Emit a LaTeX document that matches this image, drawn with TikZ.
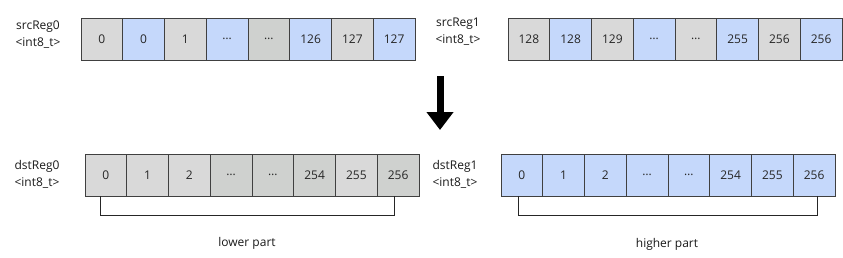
\documentclass[tikz,border=0pt]{standalone}
\usepackage{fontspec}
\setmainfont{Open Sans}
\usetikzlibrary{arrows.meta}
\definecolor{cellgray}{HTML}{D9D9D9}
\definecolor{cellgrayd}{HTML}{CFD1CF}
\definecolor{cellblue}{HTML}{C5D8FB}
\definecolor{lineclr}{HTML}{404040}
\tikzset{
  reg cell/.style={draw=lineclr,line width=0.9pt,minimum width=41.75pt,minimum height=42pt,inner sep=0pt,outer sep=0pt,anchor=west,font=\fontsize{12}{14}\selectfont,text=black!85},
  reg name/.style={align=center,font=\fontsize{12}{17}\selectfont,inner sep=0pt,text=black!90},
  part bracket/.style={draw=black!85,line width=0.9pt},
  part label/.style={font=\fontsize{12}{14}\selectfont,text=black!90},
  move arrow/.style={line width=7pt,-{Triangle[length=18pt,width=26pt]}},
}

\begin{document}
\begin{tikzpicture}[x=1pt,y=-1pt]
  \useasboundingbox (0,0) rectangle (843,257);
  % source registers
  \node[reg name] (s0name) at (38,35) {srcReg0\\<int8\_t>};
  \foreach \v/\c [count=\i from 0] in {0/cellgray,0/cellblue,1/cellgray,\ldots/cellblue,\ldots/cellgrayd,126/cellblue,127/cellgray,127/cellblue}
    \node[reg cell,fill=\c] (s0c\i) at (81+\i*41.75,39) {\v};
  \node[reg name] (s1name) at (458,32) {srcReg1\\<int8\_t>};
  \foreach \v/\c [count=\i from 0] in {128/cellgray,128/cellblue,129/cellgray,\ldots/cellblue,\ldots/cellgray,255/cellblue,256/cellgray,256/cellblue}
    \node[reg cell,fill=\c] (s1c\i) at (508+\i*41.75,39) {\v};
  % arrow
  \coordinate (arrtop) at (440,76);
  \coordinate (arrbot) at (440,130);
  \draw[move arrow] (arrtop) -- (arrbot);
  % destination registers
  \node[reg name] (d0name) at (37,174) {dstReg0\\<int8\_t>};
  \foreach \v/\c [count=\i from 0] in {0/cellgray,1/cellgray,2/cellgray,\ldots/cellgrayd,\ldots/cellgrayd,254/cellgrayd,255/cellgray,256/cellgrayd}
    \node[reg cell,fill=\c] (d0c\i) at (85+\i*41.75,175) {\v};
  \node[reg name] (d1name) at (455,174) {dstReg1\\<int8\_t>};
  \foreach \v [count=\i from 0] in {0,1,2,\ldots,\ldots,254,255,256}
    \node[reg cell,fill=cellblue] (d1c\i) at (501+\i*41.75,175) {\v};
  % brackets
  \draw[part bracket] ([xshift=-5pt]d0c0.south) -- ++(0,19) -| ([xshift=-4pt]d0c7.south);
  \node[part label] (lower) at (247,243) {lower part};
  \draw[part bracket] ([xshift=-3pt]d1c0.south) -- ++(0,19) -| ([xshift=3pt]d1c7.south);
  \node[part label] (higher) at (667,244) {higher part};
\end{tikzpicture}
\end{document}
